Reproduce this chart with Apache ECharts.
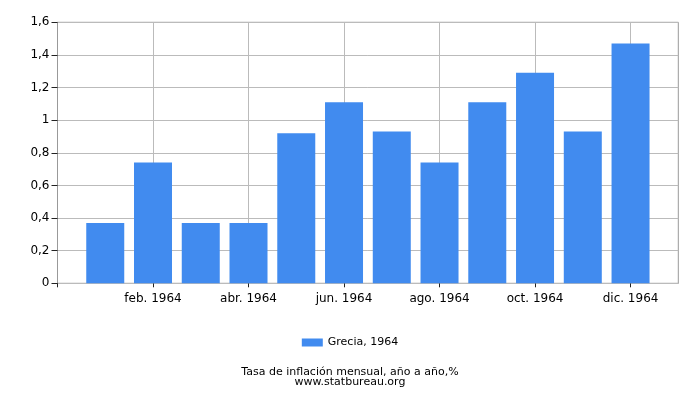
<!DOCTYPE html>
<html>
<head>
<meta charset="utf-8">
<script src="https://cdn.jsdelivr.net/npm/echarts@6/dist/echarts.min.js"></script>
<style>
  html, body { margin: 0; padding: 0; background: #fff; }
  #main { width: 700px; height: 400px; }
</style>
</head>
<body>
<div id="main"></div>
<script>
// month labels, index 1..12 on the x axis
var months = ['', 'ene. 1964', 'feb. 1964', 'mar. 1964', 'abr. 1964', 'may. 1964', 'jun. 1964',
  'jul. 1964', 'ago. 1964', 'sep. 1964', 'oct. 1964', 'nov. 1964', 'dic. 1964'];
var values = [0.37, 0.74, 0.37, 0.37, 0.92, 1.11, 0.93, 0.74, 1.11, 1.29, 0.93, 1.47];
var seriesName = 'Grecia, 1964';
var yTicks = [0, 0.2, 0.4, 0.6, 0.8, 1, 1.2, 1.4, 1.6];
var xTicks = [0, 2, 4, 6, 8, 10, 12];

var chart = echarts.init(document.getElementById('main'));

var points = values.map(function (v, i) { return [i + 1, v]; });

var option = {
  animation: false,
  textStyle: { fontFamily: 'DejaVu Sans' },
  grid: { left: 57.5, right: 21.7, top: 22.3, bottom: 116.7, containLabel: false },
  title: {
    text: 'Tasa de inflación mensual, año a año,%\nwww.statbureau.org',
    left: 'center',
    top: 362,
    textStyle: { fontSize: 11, fontWeight: 'normal', color: '#000', lineHeight: 10, fontFamily: 'DejaVu Sans' }
  },
  legend: {
    data: [seriesName],
    left: 'center',
    top: 332,
    itemWidth: 21,
    itemHeight: 8,
    itemGap: 5,
    icon: 'rect',
    textStyle: { fontSize: 11, color: '#000', fontFamily: 'DejaVu Sans' }
  },
  xAxis: {
    type: 'value',
    min: 0,
    max: 13,
    interval: 2,
    axisLine: { show: true, lineStyle: { color: '#bbb' } },
    axisTick: { show: true, length: 4, customValues: xTicks, lineStyle: { color: '#222' } },
    splitLine: { show: true, lineStyle: { color: '#bbb' } },
    axisLabel: {
      fontSize: 12, color: '#000', margin: 10,
      customValues: xTicks,
      formatter: function (v) { return v > 0 ? months[v] : ''; }
    }
  },
  yAxis: {
    type: 'value',
    min: yTicks[0],
    max: yTicks[yTicks.length - 1],
    interval: 0.2,
    axisLine: { show: true, lineStyle: { color: '#999' } },
    axisTick: { show: true, length: 6, lineStyle: { color: '#222' } },
    splitLine: { show: true, lineStyle: { color: '#bbb' } },
    axisLabel: {
      fontSize: 12, color: '#000', margin: 8,
      formatter: function (v) { return String(+v.toFixed(1)).replace('.', ','); }
    }
  },
  series: [{
    name: seriesName,
    type: 'bar',
    data: points,
    barWidth: 38,
    itemStyle: { color: '#418bef' }
  }],
  graphic: [{
    type: 'rect',
    shape: { x: 57.5, y: 22.3, width: 620.8, height: 261 },
    style: { fill: 'none', stroke: '#999', lineWidth: 1 },
    silent: true,
    z: -1
  }]
};

chart.setOption(option);
</script>
</body>
</html>
